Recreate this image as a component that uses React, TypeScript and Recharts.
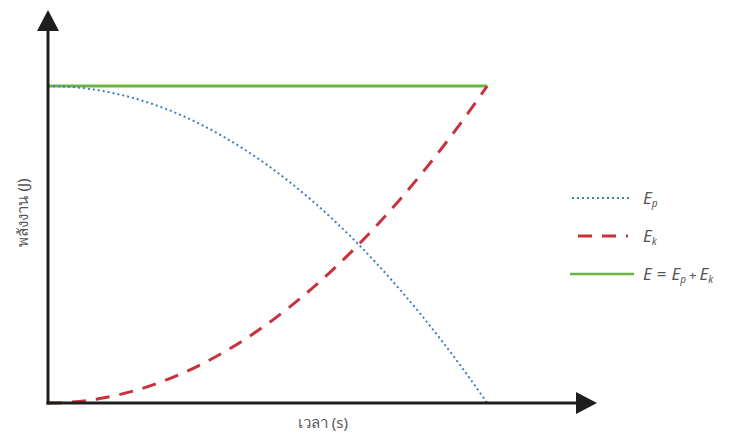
import React from 'react';
import { LineChart, Line, XAxis, YAxis, ReferenceLine } from 'recharts';

const times = [0, 0.05, 0.1, 0.15, 0.2, 0.25, 0.3, 0.35, 0.4, 0.45, 0.5, 0.55, 0.6, 0.65, 0.7, 0.75, 0.8, 0.85, 0.9, 0.95, 1];
const potential = [100, 99.75, 99, 97.75, 96, 93.75, 91, 87.75, 84, 79.75, 75, 69.75, 64, 57.75, 51, 43.75, 36, 27.75, 19, 9.75, 0];
const kinetic = [0, 0.25, 1, 2.25, 4, 6.25, 9, 12.25, 16, 20.25, 25, 30.25, 36, 42.25, 49, 56.25, 64, 72.25, 81, 90.25, 100];
const total = [100, 100, 100, 100, 100, 100, 100, 100, 100, 100, 100, 100, 100, 100, 100, 100, 100, 100, 100, 100, 100];

const xLabel = 'เวลา (s)';
const yLabel = 'พลังงาน (J)';

const data = times.map((t, i) => ({ t, ep: potential[i], ek: kinetic[i], e: total[i] }));

const AXIS = '#1e1e1e';
const BLUE = '#3f7cc4';
const RED = '#c8323c';
const GREEN = '#6cb545';
const TEXT = '#555';
const FONT = '"Noto Sans", "DejaVu Sans", sans-serif';

const YAxisShape = (props: any) => {
  const { x1, y1, y2 } = props;
  const top = Math.min(y1, y2);
  const bottom = Math.max(y1, y2);
  const cx = x1 - 26;
  const cy = (top + bottom) / 2 + 6;
  return (
    <g>
      <line x1={x1} y1={bottom + 1.5} x2={x1} y2={top + 16} stroke={AXIS} strokeWidth={3} />
      <polygon points={`${x1},${top} ${x1 - 11},${top + 21} ${x1 + 11},${top + 21}`} fill={AXIS} />
      <text
        x={cx}
        y={cy}
        transform={`rotate(-90, ${cx}, ${cy})`}
        textAnchor="middle"
        dominantBaseline="central"
        fontSize={15}
        fill={TEXT}
        fontFamily={FONT}
      >
        {yLabel}
      </text>
    </g>
  );
};

const XAxisShape = (props: any) => {
  const { x1, y1, x2 } = props;
  const left = Math.min(x1, x2);
  const right = Math.max(x1, x2);
  return (
    <g>
      <line x1={left - 1.5} y1={y1} x2={right - 16} y2={y1} stroke={AXIS} strokeWidth={3} />
      <polygon points={`${right},${y1} ${right - 21},${y1 - 11} ${right - 21},${y1 + 11}`} fill={AXIS} />
      <text
        x={left + 275}
        y={y1 + 19}
        textAnchor="middle"
        dominantBaseline="central"
        fontSize={15}
        fill={TEXT}
        fontFamily={FONT}
      >
        {xLabel}
      </text>
    </g>
  );
};

const LegendBox = () => {
  const tx = 73;
  const textProps = { fontSize: 17, fill: TEXT, fontFamily: FONT, fontStyle: 'italic' as const };
  const subProps = { fontSize: 10, fill: TEXT, fontFamily: FONT, fontStyle: 'italic' as const };
  return (
    <svg width={180} height={110} style={{ position: 'absolute', left: 562, top: 180, overflow: 'visible' }}>
      <line x1={2} y1={10} x2={62} y2={10} stroke={BLUE} strokeWidth={2} strokeDasharray="2 3" />
      <text x={tx} y={16} {...textProps}>E<tspan {...subProps} dy={3}>p</tspan></text>
      <line x1={8} y1={48} x2={58} y2={48} stroke={RED} strokeWidth={3} strokeDasharray="14 10" />
      <text x={tx} y={54} {...textProps}>E<tspan {...subProps} dy={3}>k</tspan></text>
      <line x1={0} y1={86} x2={64} y2={86} stroke={GREEN} strokeWidth={2.5} />
      <text x={tx} y={92} {...textProps}>
        E<tspan dx={5} fontStyle="normal">=</tspan>
        <tspan dx={5}>E</tspan><tspan {...subProps} dy={3}>p</tspan>
        <tspan dy={-3} dx={3} fontStyle="normal" fontSize={13}>+</tspan>
        <tspan dx={3}>E</tspan><tspan {...subProps} dy={3}>k</tspan>
      </text>
    </svg>
  );
};

export default function App() {
  return (
    <div style={{ position: 'relative', width: 741, height: 430 }}>
      <LineChart
        width={741}
        height={430}
        data={data}
        margin={{ top: 2, right: 152, bottom: 35, left: 40 }}
      >
        <XAxis type="number" dataKey="t" domain={[0, 1.25]} hide />
        <YAxis type="number" domain={[0, 124]} hide />
        <Line type="monotone" dataKey="e" stroke={GREEN} strokeWidth={3} dot={false} isAnimationActive={false} />
        <Line type="monotone" dataKey="ep" stroke={BLUE} strokeWidth={2} strokeDasharray="2 3" dot={false} isAnimationActive={false} />
        <Line type="monotone" dataKey="ek" stroke={RED} strokeWidth={3} strokeDasharray="14 10" dot={false} isAnimationActive={false} />
        <ReferenceLine x={0} stroke={AXIS} shape={YAxisShape} />
        <ReferenceLine y={0} stroke={AXIS} shape={XAxisShape} />
      </LineChart>
      <LegendBox />
    </div>
  );
}
